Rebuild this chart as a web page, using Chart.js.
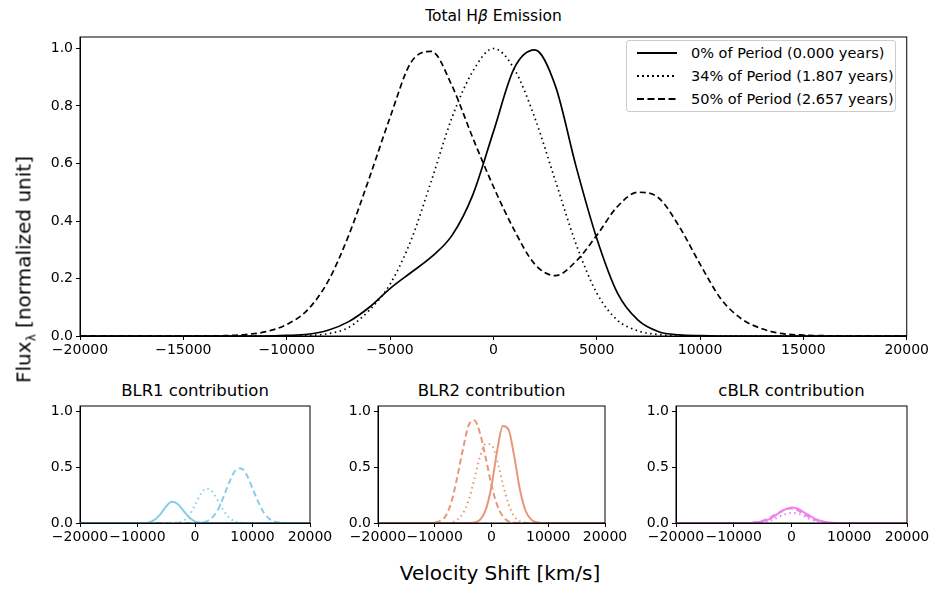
<!DOCTYPE html>
<html><head><meta charset="utf-8">
<script src="https://cdn.jsdelivr.net/npm/chart.js@4"></script>
<style>
body{margin:0;background:#fff;width:931px;height:592px;position:relative;overflow:hidden;font-family:"DejaVu Sans",sans-serif;color:#000}
.box{position:absolute}
.t{position:absolute;white-space:nowrap;text-align:center}
#legend{position:absolute;left:626px;top:40px;width:268px;height:70px;border:1px solid #ccc;border-radius:3px;background:#fff;font-size:14.5px;z-index:5}
#legend div{height:22px;line-height:22px;padding-left:10px;display:flex;align-items:center;margin-top:1px}
#legend svg{margin-right:14px}
</style></head><body>
<div class="t" style="left:80px;width:827px;top:7px;font-size:15.5px">Total H<i>β</i> Emission</div>
<div class="box" style="left:0;top:0"><canvas id="main" width="931" height="380"></canvas></div>
<div class="t" style="left:80px;width:230px;top:381px;font-size:16.5px">BLR1 contribution</div>
<div class="t" style="left:378px;width:227px;top:381px;font-size:16.5px">BLR2 contribution</div>
<div class="t" style="left:676px;width:231px;top:381px;font-size:16.5px">cBLR contribution</div>
<div class="box" style="left:0;top:390px"><canvas id="p1" width="340" height="160"></canvas></div>
<div class="box" style="left:298px;top:390px"><canvas id="p2" width="340" height="160"></canvas></div>
<div class="box" style="left:596px;top:390px"><canvas id="p3" width="340" height="160"></canvas></div>
<div class="t" style="left:300px;width:400px;top:561px;font-size:20px">Velocity Shift [km/s]</div>
<div class="t" style="left:-125px;width:300px;top:256px;font-size:20px;transform:rotate(-90deg)">Flux<sub style="font-size:12px">λ</sub> [normalized unit]</div>
<div id="legend">
<div><svg width="40" height="4"><line x1="0" y1="2" x2="40" y2="2" stroke="#000" stroke-width="2"/></svg>0% of Period (0.000 years)</div>
<div><svg width="40" height="4"><line x1="0" y1="2" x2="40" y2="2" stroke="#000" stroke-width="2" stroke-dasharray="2,3"/></svg>34% of Period (1.807 years)</div>
<div><svg width="40" height="4"><line x1="0" y1="2" x2="40" y2="2" stroke="#000" stroke-width="2" stroke-dasharray="7,3.5"/></svg>50% of Period (2.657 years)</div>
</div>
<script>
const velocity=[-20000,-19000,-18000,-17000,-16000,-15000,-14000,-13000,-12000,-11000,-10000,-9000,-8000,-7000,-6000,-5000,-4000,-3000,-2000,-1000,0,1000,2000,3000,4000,5000,6000,7000,8000,9000,10000,11000,12000,13000,14000,15000,16000,17000,18000,19000,20000];
const seriesLabels=["0% of Period (0.000 years)","34% of Period (1.807 years)","50% of Period (2.657 years)"];
const total0 =[0,0,0,0,0,0,0,0,0,0,0.002,0.006,0.02,0.05,0.10,0.165,0.22,0.275,0.35,0.49,0.71,0.93,0.995,0.87,0.59,0.34,0.15,0.055,0.015,0.004,0.001,0,0,0,0,0,0,0,0,0,0];
const total34=[0,0,0,0,0,0,0,0,0,0,0,0.002,0.008,0.03,0.09,0.18,0.33,0.54,0.76,0.92,1.0,0.93,0.76,0.54,0.32,0.15,0.055,0.018,0.005,0.001,0,0,0,0,0,0,0,0,0,0,0];
const total50=[0,0,0,0,0,0,0,0.001,0.005,0.015,0.04,0.09,0.19,0.35,0.55,0.76,0.95,0.99,0.87,0.69,0.52,0.37,0.25,0.21,0.26,0.35,0.45,0.50,0.48,0.38,0.25,0.13,0.06,0.025,0.008,0.003,0.001,0,0,0,0];
const blr1_0 =[0,0,0,0,0,0,0,0,0,0,0,0,0.005,0.03,0.08,0.15,0.19,0.17,0.11,0.05,0.015,0.003,0,0,0,0,0,0,0,0,0,0,0,0,0,0,0,0,0,0,0];
const blr1_34=[0,0,0,0,0,0,0,0,0,0,0,0,0,0,0,0,0,0.005,0.02,0.07,0.16,0.26,0.31,0.28,0.20,0.11,0.045,0.015,0.004,0,0,0,0,0,0,0,0,0,0,0,0];
const blr1_50=[0,0,0,0,0,0,0,0,0,0,0,0,0,0,0,0,0,0,0,0,0,0.003,0.015,0.05,0.12,0.24,0.37,0.47,0.49,0.43,0.31,0.19,0.09,0.035,0.01,0.003,0,0,0,0,0];
const blr2_0 =[0,0,0,0,0,0,0,0,0,0,0,0,0,0,0,0,0,0.005,0.03,0.12,0.33,0.65,0.87,0.84,0.60,0.30,0.11,0.03,0.006,0,0,0,0,0,0,0,0,0,0,0,0];
const blr2_34=[0,0,0,0,0,0,0,0,0,0,0,0,0,0.005,0.03,0.09,0.21,0.40,0.60,0.71,0.70,0.56,0.35,0.17,0.06,0.015,0.003,0,0,0,0,0,0,0,0,0,0,0,0,0,0];
const blr2_50=[0,0,0,0,0,0,0,0,0,0,0.005,0.02,0.07,0.20,0.42,0.67,0.88,0.92,0.80,0.58,0.34,0.16,0.06,0.015,0.003,0,0,0,0,0,0,0,0,0,0,0,0,0,0,0,0];
const cblr_0 =[0,0,0,0,0,0,0,0,0,0,0,0,0,0,0.005,0.015,0.03,0.06,0.095,0.125,0.14,0.13,0.10,0.07,0.04,0.02,0.007,0.002,0,0,0,0,0,0,0,0,0,0,0,0,0];
const cblr_34=[0,0,0,0,0,0,0,0,0,0,0,0,0,0,0,0.005,0.015,0.035,0.06,0.08,0.09,0.085,0.065,0.04,0.02,0.008,0.002,0,0,0,0,0,0,0,0,0,0,0,0,0,0];
const cblr_50=[0,0,0,0,0,0,0,0,0,0,0,0,0,0.002,0.008,0.02,0.04,0.07,0.10,0.125,0.13,0.115,0.085,0.055,0.03,0.012,0.004,0.001,0,0,0,0,0,0,0,0,0,0,0,0,0];
const mainYTicks=[0,0.2,0.4,0.6,0.8,1.0];
const subYTicks=[0,0.5,1.0];

const FONT='"DejaVu Sans", sans-serif';
const dashes=[[],[1.5,3.5],[6,3.5]];
const pts=a=>a.map((y,i)=>({x:velocity[i],y}));
const minus=v=>String(v).replace('-','\u2212');
const frame={id:'frame',afterDraw(c){const a=c.chartArea,x=c.ctx;x.save();x.strokeStyle='#000';x.lineWidth=1;x.strokeRect(a.left,a.top,a.right-a.left,a.bottom-a.top);x.restore();}};
function make(id,series,color,lw,cfg){
  new Chart(document.getElementById(id),{
    type:'line',
    data:{datasets:series.map((s,k)=>({label:seriesLabels[k],data:pts(s),borderColor:color,borderWidth:lw,borderDash:dashes[k],pointRadius:0,cubicInterpolationMode:'monotone',fill:false}))},
    options:{responsive:false,animation:false,devicePixelRatio:1,
      layout:{padding:cfg.pad},
      plugins:{legend:{display:false},tooltip:{enabled:false}},
      scales:{
        x:{type:'linear',min:-20000,max:20000,afterFit:s=>{s.height=cfg.xh;},
          afterBuildTicks:s=>{s.ticks=cfg.xt.map(v=>({value:v}));},
          ticks:{autoSkip:false,maxRotation:0,color:'#000',font:{family:FONT,size:cfg.fs},padding:2,callback:v=>minus(v)},
          grid:{drawOnChartArea:false,color:'#000',tickLength:4},border:{color:'#000'}},
        y:{min:0,max:cfg.ymax,afterFit:s=>{s.width=80;},
          afterBuildTicks:s=>{s.ticks=cfg.yt.map(v=>({value:v}));},
          ticks:{color:'#000',font:{family:FONT,size:cfg.fs},padding:3,callback:v=>v.toFixed(1)},
          grid:{drawOnChartArea:false,color:'#000',tickLength:4},border:{color:'#000'}}
      }},
    plugins:[frame]});
}
make('main',[total0,total34,total50],'#000',1.7,{pad:{top:37,right:24,left:0,bottom:0},xh:44,ymax:1.04,yt:mainYTicks,xt:[-20000,-15000,-10000,-5000,0,5000,10000,15000,20000],fs:14});
const subX=[-20000,-10000,0,10000,20000];
make('p1',[blr1_0,blr1_34,blr1_50],'#87CEEB',2,{pad:{top:16,right:30,left:0,bottom:0},xh:27,ymax:1.05,yt:subYTicks,xt:subX,fs:14});
make('p2',[blr2_0,blr2_34,blr2_50],'#E9967A',2,{pad:{top:16,right:33,left:0,bottom:0},xh:27,ymax:1.05,yt:subYTicks,xt:subX,fs:14});
make('p3',[cblr_0,cblr_34,cblr_50],'#EE82EE',2,{pad:{top:16,right:29,left:0,bottom:0},xh:27,ymax:1.05,yt:subYTicks,xt:subX,fs:14});
</script></body></html>
